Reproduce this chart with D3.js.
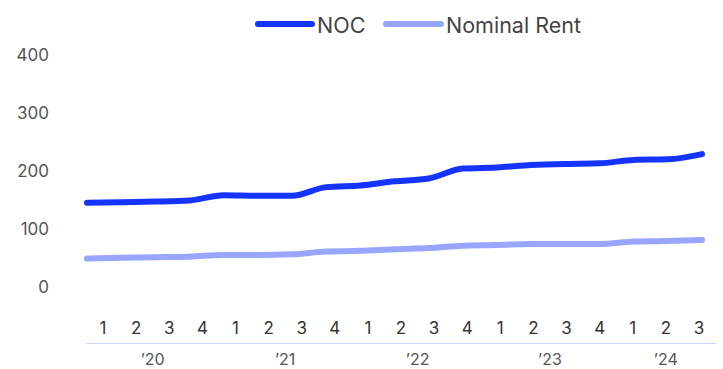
<!DOCTYPE html>
<html><head><meta charset="utf-8">
<script src="https://cdn.jsdelivr.net/npm/d3@7"></script>
<style>body{margin:0;background:#fff;}svg{display:block;font-family:Inter,Roboto,sans-serif;}</style>
</head><body>
<svg id="chart" width="723" height="369"></svg>
<script>
const quarters = ["1","2","3","4","1","2","3","4","1","2","3","4","1","2","3","4","1","2","3"];
const years = ["\u201920","\u201921","\u201922","\u201923","\u201924"];
const yearSpans = [[0,3],[4,7],[8,11],[12,15],[16,18]];
const noc = [145,146,147,149,158,157,157,172,175,182,187,204,206,210,212,213,219,220,229];
const nominalRent = [49,50,51,52,55,55,56,61,62,65,67,71,72,74,74,74,78,79,81];
const yTicks = [0,100,200,300,400];
const seriesNames = ["NOC","Nominal Rent"];
const colors = ["#1634ff","#99a6ff"];

const svg = d3.select("#chart");
const idx = d3.range(quarters.length);
const x = d3.scalePoint().domain(idx).range([87,702]);
const xb = d3.scaleBand().domain(idx).range([86.5,715.5]);
const y = d3.scaleLinear().domain([0,400]).range([286.8,55]);

// y axis labels
svg.append("g").selectAll("text").data(yTicks).join("text")
  .attr("x",49).attr("y",d=>y(d)).attr("dy","0.35em").attr("text-anchor","end")
  .attr("font-size",17).attr("fill","#555").text(d=>d);

const line = d3.line().x((d,i)=>x(i)).y(d=>y(d)).curve(d3.curveMonotoneX);
[nominalRent,noc].forEach((s,k)=>{
  const c = k===0?colors[1]:colors[0];
  svg.append("path").datum(s).attr("d",line).attr("fill","none")
    .attr("stroke",c).attr("stroke-width",6).attr("stroke-linecap","round").attr("stroke-linejoin","round");
});

// x axis
svg.append("line").attr("x1",86).attr("x2",716).attr("y1",343.5).attr("y2",343.5)
  .attr("stroke","#cdd4ff").attr("stroke-width",1);
svg.append("g").selectAll("text").data(quarters).join("text")
  .attr("x",(d,i)=>xb(i)+xb.bandwidth()/2).attr("y",328).attr("dy","0.35em")
  .attr("text-anchor","middle").attr("font-size",17).attr("fill","#333").text(d=>d);
svg.append("g").selectAll("text").data(years).join("text")
  .attr("x",(d,i)=>(xb(yearSpans[i][0])+xb(yearSpans[i][1])+xb.bandwidth())/2)
  .attr("y",359).attr("dy","0.35em").attr("text-anchor","middle")
  .attr("font-size",16).attr("fill","#555").text(d=>d);

// legend
const leg = [{n:seriesNames[0],c:colors[0],x0:258,x1:312,tx:317},{n:seriesNames[1],c:colors[1],x0:386,x1:441,tx:446}];
leg.forEach(l=>{
  svg.append("line").attr("x1",l.x0).attr("x2",l.x1).attr("y1",24).attr("y2",24)
    .attr("stroke",l.c).attr("stroke-width",6).attr("stroke-linecap","round");
  svg.append("text").attr("x",l.tx).attr("y",25).attr("dy","0.35em")
    .attr("font-size",21.5).attr("fill","#444").text(l.n);
});
</script>
</body></html>
